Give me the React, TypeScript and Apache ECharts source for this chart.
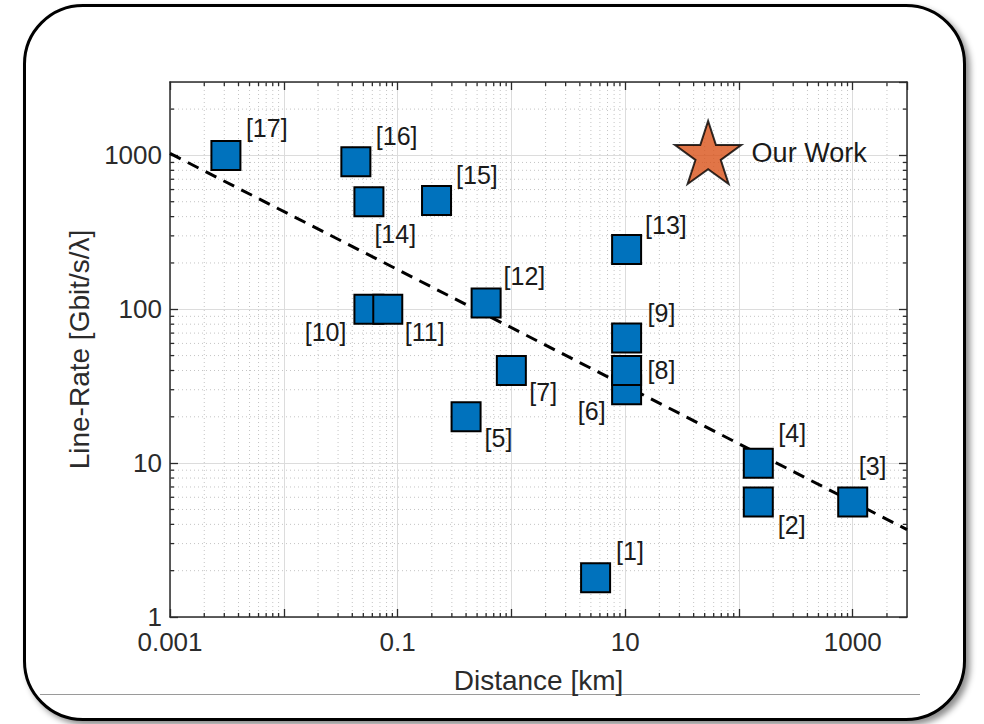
import React, { useEffect, useRef } from "react";
import * as echarts from "echarts";

// ---- data ----
const refLabels = ["[1]", "[2]", "[3]", "[4]", "[5]", "[6]", "[7]", "[8]", "[9]", "[10]", "[11]", "[12]", "[13]", "[14]", "[15]", "[16]", "[17]"];
const distanceKm = [5.5, 148, 1000, 148, 0.4, 10.3, 1.0, 10.3, 10.3, 0.056, 0.082, 0.6, 10.3, 0.056, 0.22, 0.043, 0.0031];
const lineRate = [1.8, 5.6, 5.6, 10, 20, 30, 40, 40, 65, 100, 100, 110, 245, 500, 510, 910, 1000];

const trendDistance = [0.001, 3000];
const trendRate = [1030, 3.7];

const ourWorkName = "Our Work";

const xMin = 0.001;
const xMax = 3000;
const yMin = 1;
const yMax = 3000;
const xDecades = [0.001, 0.01, 0.1, 1, 10, 100, 1000];
const yDecades = [1, 10, 100, 1000];
const minorMultipliers = [2, 3, 4, 5, 6, 7, 8, 9];

// label placement (relative to the square's bounding box)
const labelPlacement: Record<string, { pos: [number, number]; align: "left" | "right" }> = {
  "[1]": { pos: [36, -11], align: "left" },
  "[2]": { pos: [35, 39], align: "left" },
  "[3]": { pos: [21.5, -20.5], align: "left" },
  "[4]": { pos: [35.5, -14.5], align: "left" },
  "[5]": { pos: [34, 37], align: "left" },
  "[6]": { pos: [-5.5, 36.5], align: "right" },
  "[7]": { pos: [33.5, 36.5], align: "left" },
  "[8]": { pos: [36.5, 14.5], align: "left" },
  "[9]": { pos: [36.5, -9.5], align: "left" },
  "[10]": { pos: [-7, 38], align: "right" },
  "[11]": { pos: [32.5, 38], align: "left" },
  "[12]": { pos: [33, -11.5], align: "left" },
  "[13]": { pos: [34, -9], align: "left" },
  "[14]": { pos: [21, 47.5], align: "left" },
  "[15]": { pos: [35, -10], align: "left" },
  "[16]": { pos: [35.5, -10.5], align: "left" },
  "[17]": { pos: [35.5, -11.5], align: "left" },
};

const FONT = "'Liberation Sans', Arial, Helvetica, sans-serif";
const AXIS_COLOR = "#2b2b2b";
const STAR = "path://M100 0 L122.45 69.1 L195.1 69.1 L136.33 111.8 L158.8 180.9 L100 138.2 L41.2 180.9 L63.67 111.8 L4.9 69.1 L77.55 69.1 Z";

function minorValues(decades: number[], max: number): number[] {
  const out: number[] = [];
  decades.forEach((d) => minorMultipliers.forEach((m) => {
    const v = d * m;
    if (v < max) out.push(v);
  }));
  return out;
}

function isPow10(v: number) {
  const l = Math.log10(v);
  return Math.abs(l - Math.round(l)) < 1e-6;
}

function fmtPow(v: number) {
  const e = Math.round(Math.log10(v));
  return e < 0 ? Math.pow(10, e).toFixed(-e) : String(Math.round(Math.pow(10, e)));
}

export default function App() {
  const ref = useRef<HTMLDivElement>(null);

  useEffect(() => {
    if (!ref.current) return;
    const chart = echarts.init(ref.current, undefined, { renderer: "svg" });

    const xMinor = minorValues(xDecades, xMax);
    const yMinor = minorValues(yDecades, yMax);
    const minorGridStyle = { stroke: "#c4c4c4", lineWidth: 1, lineDash: [1, 3] };
    const minorTickStyle = { stroke: AXIS_COLOR, lineWidth: 1.3 };

    const points = refLabels.map((lab, i) => {
      const p = labelPlacement[lab];
      return {
        value: [distanceKm[i], lineRate[i]],
        name: lab,
        label: { position: p.pos, align: p.align },
      };
    });

    const commonAxisLine = { show: true, lineStyle: { color: AXIS_COLOR, width: 1.5 } };
    const commonTick = { show: true, inside: true, length: 8, lineStyle: { color: AXIS_COLOR, width: 1.3 } };

    chart.setOption({
      animation: false,
      backgroundColor: "transparent",
      grid: { left: 170, right: 77, top: 82, bottom: 107, outerBoundsMode: "none", containLabel: false },
      legend: {
        show: true,
        data: [{ name: ourWorkName, icon: STAR }],
        left: 669,
        top: 115,
        itemWidth: 67,
        itemHeight: 63,
        selectedMode: false,
        itemStyle: { color: "#D95319", borderColor: "#000", borderWidth: 2 },
        textStyle: { fontSize: 27, color: "#1a1a1a", fontFamily: FONT, padding: [16, 0, 0, 5] },
      },
      xAxis: [
        {
          type: "log",
          logBase: 10,
          min: xMin,
          max: xMax,
          name: "Distance [km]",
          nameLocation: "middle",
          nameGap: 49,
          nameTextStyle: { fontSize: 28, color: AXIS_COLOR, fontFamily: FONT },
          axisLine: commonAxisLine,
          axisTick: commonTick,
          axisLabel: {
            margin: 12,
            fontSize: 26,
            color: AXIS_COLOR,
            fontFamily: FONT,
            showMaxLabel: false,
            formatter: (v: number) => {
              if (!isPow10(v)) return "";
              const e = Math.round(Math.log10(v));
              return ((e % 2) + 2) % 2 === 1 ? fmtPow(v) : "";
            },
          },
          splitLine: { show: true, lineStyle: { color: "#dcdcdc", width: 1 } },
        },
        {
          type: "log",
          logBase: 10,
          min: xMin,
          max: xMax,
          position: "top",
          axisLine: commonAxisLine,
          axisTick: commonTick,
          axisLabel: { show: false },
          splitLine: { show: false },
        },
      ],
      yAxis: [
        {
          type: "log",
          logBase: 10,
          min: yMin,
          max: yMax,
          name: "Line-Rate [Gbit/s/λ]",
          nameLocation: "middle",
          nameGap: 73,
          nameTextStyle: { fontSize: 28, color: AXIS_COLOR, fontFamily: FONT },
          axisLine: commonAxisLine,
          axisTick: commonTick,
          axisLabel: {
            margin: 8,
            fontSize: 26,
            color: AXIS_COLOR,
            fontFamily: FONT,
            showMaxLabel: false,
            formatter: (v: number) => (isPow10(v) ? fmtPow(v) : ""),
          },
          splitLine: { show: true, lineStyle: { color: "#dcdcdc", width: 1 } },
        },
        {
          type: "log",
          logBase: 10,
          min: yMin,
          max: yMax,
          position: "right",
          axisLine: commonAxisLine,
          axisTick: commonTick,
          axisLabel: { show: false },
          splitLine: { show: false },
        },
      ],
      series: [
        {
          type: "custom",
          silent: true,
          z: 1,
          xAxisIndex: 0,
          yAxisIndex: 0,
          data: xMinor.map((v) => [v, 10]),
          renderItem: (params: any, api: any) => {
            const x = api.coord([api.value(0), 10])[0];
            const cs = params.coordSys;
            const y0 = cs.y;
            const y1 = cs.y + cs.height;
            return {
              type: "group",
              children: [
                { type: "line", shape: { x1: x, y1: y0, x2: x, y2: y1 }, style: minorGridStyle },
                { type: "line", shape: { x1: x, y1: y1, x2: x, y2: y1 - 4 }, style: minorTickStyle },
                { type: "line", shape: { x1: x, y1: y0, x2: x, y2: y0 + 4 }, style: minorTickStyle },
              ],
            };
          },
        },
        {
          type: "custom",
          silent: true,
          z: 1,
          xAxisIndex: 0,
          yAxisIndex: 0,
          data: yMinor.map((v) => [1, v]),
          renderItem: (params: any, api: any) => {
            const y = api.coord([1, api.value(1)])[1];
            const cs = params.coordSys;
            const x0 = cs.x;
            const x1 = cs.x + cs.width;
            return {
              type: "group",
              children: [
                { type: "line", shape: { x1: x0, y1: y, x2: x1, y2: y }, style: minorGridStyle },
                { type: "line", shape: { x1: x0, y1: y, x2: x0 + 4, y2: y }, style: minorTickStyle },
                { type: "line", shape: { x1: x1, y1: y, x2: x1 - 4, y2: y }, style: minorTickStyle },
              ],
            };
          },
        },
        {
          type: "line",
          silent: true,
          z: 2,
          symbol: "none",
          data: trendDistance.map((d, i) => [d, trendRate[i]]),
          lineStyle: { color: "#000", width: 3, type: [12, 8] },
        },
        {
          type: "scatter",
          z: 3,
          symbol: "rect",
          symbolSize: 29,
          data: points,
          itemStyle: { color: "#0072BD", borderColor: "#000", borderWidth: 2, opacity: 1 },
          label: {
            show: true,
            formatter: (p: any) => p.name,
            fontSize: 25,
            color: "#1a1a1a",
            fontFamily: FONT,
            verticalAlign: "middle",
          },
        },
        {
          type: "scatter",
          name: ourWorkName,
          data: [],
          symbol: STAR,
          itemStyle: { color: "#D95319", borderColor: "#000", borderWidth: 2 },
        },
      ],
    });

    return () => chart.dispose();
  }, []);

  return (
    <div style={{ position: "fixed", left: 0, top: 0, width: 984, height: 724, background: "#fff", overflow: "hidden" }}>
      <div
        style={{
          position: "absolute",
          left: 23,
          top: 4,
          width: 943,
          height: 717,
          boxSizing: "border-box",
          border: "3px solid #000",
          borderRadius: 60,
          boxShadow: "4px 4px 6px rgba(0,0,0,0.45)",
          background: "#fff",
        }}
      />
      <div style={{ position: "absolute", left: 40, top: 694, width: 880, height: 0, borderTop: "1.5px solid #9a9a9a" }} />
      <div ref={ref} style={{ position: "absolute", left: 0, top: 0, width: 984, height: 724 }} />
    </div>
  );
}
